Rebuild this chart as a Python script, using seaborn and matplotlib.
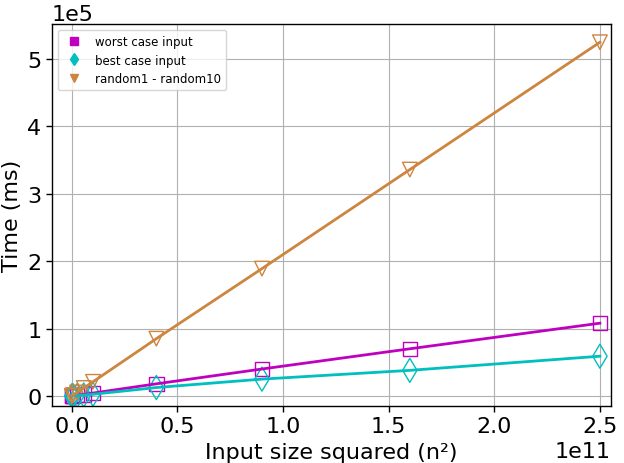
import numpy as np
import pandas as pd
import matplotlib
matplotlib.use("Agg")
import matplotlib.pyplot as plt
from matplotlib.lines import Line2D
import seaborn as sns

# input sizes squared (n^2)
x_sq = [1e6, 1e8, 6.25e8, 2.5e9, 5.625e9, 1e10, 4e10, 9e10, 1.6e11, 2.5e11]
worst_ms = [1, 50, 300, 1100, 2400, 4300, 18000, 40000, 70000, 108000]
best_ms = [1, 30, 160, 600, 1400, 2500, 12500, 25000, 38000, 59000]
random_ms = [3, 220, 1300, 5200, 11800, 21000, 85000, 189000, 336000, 525000]

series_names = ["worst case input", "best case input", "random1 - random10"]
colors = ["m", "c", "peru"]
markers = ["s", "d", "v"]

df = pd.concat([
    pd.DataFrame({"x": x_sq, "y": worst_ms, "series": series_names[0]}),
    pd.DataFrame({"x": x_sq, "y": best_ms, "series": series_names[1]}),
    pd.DataFrame({"x": x_sq, "y": random_ms, "series": series_names[2]}),
])

plt.rcParams.update({"text.color": "black", "axes.labelcolor": "black",
                     "xtick.color": "black", "ytick.color": "black",
                     "font.family": ["DejaVu Sans"]})
fig = plt.figure(figsize=(6.24, 4.64), dpi=100)
ax = fig.add_axes([0.083, 0.123, 0.896, 0.823])
ax.set_facecolor("white")

for name, col, mk in zip(series_names, colors, markers):
    sub = df[df["series"] == name]
    ax.scatter(sub["x"], sub["y"], marker=mk, s=110 if mk != "d" else 150,
               facecolors="none", edgecolors=col, linewidths=1.0, zorder=2)
    sns.lineplot(data=sub, x="x", y="y", color=col, linewidth=2, ax=ax,
                 legend=False, zorder=3, estimator=None, sort=False)

ax.set_xlim(-0.095e11, 2.552e11)
ax.set_ylim(-0.148e5, 5.52e5)
ax.ticklabel_format(axis="both", style="sci", scilimits=(0, 0))
ax.grid(True, color="#b0b0b0", linewidth=0.8)
ax.set_axisbelow(True)
for s in ax.spines.values():
    s.set_color("black")
    s.set_linewidth(1.0)
ax.tick_params(axis="both", labelsize=16, length=4, width=1, direction="out")
ax.xaxis.get_offset_text().set_fontsize(16)
ax.yaxis.get_offset_text().set_fontsize(16)
ax.set_xlabel("Input size squared (n²)", fontsize=16)
ax.set_ylabel("Time (ms)", fontsize=16)

handles = [Line2D([], [], linestyle="none", marker=mk, color=col, markersize=6)
           for col, mk in zip(colors, markers)]
ax.legend(handles, series_names, loc="upper left", fontsize=8.5, frameon=True)

fig.savefig("out.png", dpi=100)
